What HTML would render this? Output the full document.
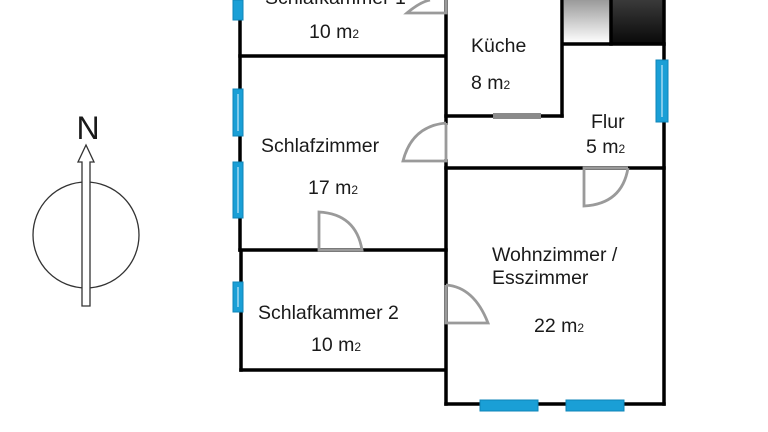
<!DOCTYPE html>
<html><head><meta charset="utf-8"><style>
html,body{margin:0;padding:0;background:#fff;}
svg{display:block;}
text{font-family:"Liberation Sans",sans-serif;fill:#1a1a1a;}
</style></head><body>
<svg width="768" height="432" viewBox="0 0 768 432" xmlns="http://www.w3.org/2000/svg">
<defs>
<linearGradient id="g1" x1="0" y1="0" x2="0" y2="1"><stop offset="0" stop-color="#9a9a9a"/><stop offset="1" stop-color="#ffffff"/></linearGradient>
<linearGradient id="g2" x1="0" y1="0" x2="0" y2="1"><stop offset="0" stop-color="#3a3a3a"/><stop offset="1" stop-color="#0a0a0a"/></linearGradient>
</defs>
<rect x="564" y="0" width="47" height="43" fill="url(#g1)"/>
<rect x="612" y="0" width="51" height="43" fill="url(#g2)"/>
<g stroke="#000" stroke-width="3.5" fill="none" stroke-linecap="square">
<line x1="240" y1="0" x2="240" y2="250"/>
<line x1="240" y1="56" x2="445" y2="56"/>
<line x1="446" y1="0" x2="446" y2="123"/>
<line x1="446" y1="161" x2="446" y2="404"/>
<line x1="446" y1="116" x2="562" y2="116"/>
<line x1="562" y1="0" x2="562" y2="116"/>
<line x1="563" y1="44" x2="664" y2="44"/>
<line x1="611" y1="0" x2="611" y2="44"/>
<line x1="664" y1="0" x2="664" y2="404"/>
<line x1="446" y1="168" x2="664" y2="168"/>
<line x1="446" y1="404" x2="664" y2="404"/>
<line x1="240" y1="250" x2="446" y2="250"/>
<line x1="241" y1="253" x2="241" y2="370"/>
<line x1="241" y1="370" x2="444" y2="370"/>
</g>
<line x1="493" y1="116" x2="541" y2="116" stroke="#8a8a8a" stroke-width="6"/>
<g fill="#1a9fd6" stroke="#0f86b8" stroke-width="1">
<rect x="233" y="0" width="10" height="20"/>
<rect x="233" y="89" width="10" height="47"/>
<rect x="233" y="162" width="10" height="56"/>
<rect x="233" y="282" width="10" height="30"/>
<rect x="656" y="60" width="12" height="62"/>
<rect x="480" y="400" width="58" height="11"/>
<rect x="566" y="400" width="58" height="11"/>
</g>
<g stroke="#e6f6fd" stroke-width="1">
<line x1="238" y1="94" x2="238" y2="131"/><line x1="238" y1="167" x2="238" y2="213"/>
<line x1="238" y1="287" x2="238" y2="307"/><line x1="662" y1="65" x2="662" y2="117"/>
</g>
<g stroke="#9a9a9a" stroke-width="2.8" fill="none">
<path d="M446 0 L446 13 L407 13 Q420 2 430 0"/>
<path d="M446 123 L446 161 L403 161 Q412 126 446 123"/>
<path d="M319 250 L319 212 Q356 214 362 250 Z"/>
<path d="M446 285 L446 323 L488 323 Q474 287 446 285"/>
<path d="M628 168 L584 168 L584 206 Q622 204 628 168"/>
</g>
<g font-size="19.5">
<text x="265" y="4">Schlafkammer 1</text>
<text x="309" y="38">10 m<tspan font-size="12">2</tspan></text>
<text x="471" y="52">Küche</text>
<text x="471" y="89">8 m<tspan font-size="12">2</tspan></text>
<text x="591" y="128">Flur</text>
<text x="586" y="153">5 m<tspan font-size="12">2</tspan></text>
<text x="261" y="152">Schlafzimmer</text>
<text x="308" y="194">17 m<tspan font-size="12">2</tspan></text>
<text x="492" y="261">Wohnzimmer /</text>
<text x="492" y="284">Esszimmer</text>
<text x="534" y="332">22 m<tspan font-size="12">2</tspan></text>
<text x="258" y="319">Schlafkammer 2</text>
<text x="311" y="351">10 m<tspan font-size="12">2</tspan></text>
</g>
<circle cx="86" cy="235" r="53" fill="none" stroke="#333" stroke-width="1.3"/>
<path d="M82 306 L82 162 L78 162 L86 145 L94 162 L90 162 L90 306 Z" fill="#fff" stroke="#333" stroke-width="1.3"/>
<text x="88" y="139" font-size="32" text-anchor="middle" fill="#000">N</text>
</svg>
</body></html>
